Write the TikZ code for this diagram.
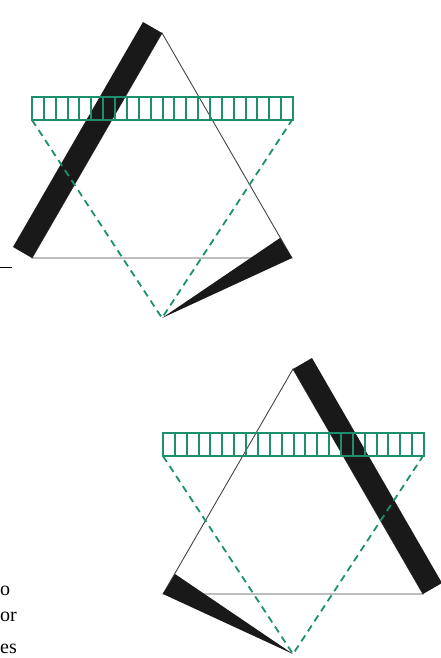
\documentclass[tikz,border=0pt]{standalone}
\usepackage{fontspec}
\setmainfont{Liberation Serif}
\usepackage{xcolor}
\usepackage{tikz}
\definecolor{hatchgreen}{HTML}{1B8F6E}
\definecolor{edgegray}{HTML}{444444}

\begin{document}
\begin{tikzpicture}[x=1pt,y=-1pt]
\useasboundingbox (0,0) rectangle (440,658);
% upper star
\coordinate (a1) at (162,33); \coordinate (b1) at (32,258); \coordinate (c1) at (292,258);
\coordinate (a1o) at (143,22); \coordinate (b1o) at (13,247);
\coordinate (q1) at (280,238); \coordinate (p1) at (162,318);
\coordinate (h1l) at (32,120); \coordinate (h1r) at (292,120);
\draw[edgegray,line width=0.9pt] (a1)--(b1)--(c1)--cycle;
\fill[black!90] (a1)--(a1o)--(b1o)--(b1)--cycle;
\fill[black!90] (p1)--(q1)--(c1)--cycle;
\draw[hatchgreen,line width=1.8pt,dash pattern=on 7pt off 5pt] (h1l)--(p1)--(h1r);
\draw[hatchgreen,line width=1.8pt] (32,97) rectangle (293,120);
\foreach \i in {1,...,21}{\draw[hatchgreen,line width=2pt] ({32+\i*261/22},97)--({32+\i*261/22},120);}
\coordinate (m1) at (0,267); \coordinate (m2) at (12,267);
\draw[line width=0.9pt] (m1)--(m2);
% lower star
\coordinate (a2) at (293,369); \coordinate (b2) at (163,594); \coordinate (c2) at (423,594);
\coordinate (a2o) at (312,358); \coordinate (c2o) at (442,583);
\coordinate (q2) at (175,574); \coordinate (p2) at (293,654);
\coordinate (h2l) at (163,456); \coordinate (h2r) at (423,456);
\draw[edgegray,line width=0.9pt] (a2)--(b2)--(c2)--cycle;
\fill[black!90] (a2)--(a2o)--(c2o)--(c2)--cycle;
\fill[black!90] (p2)--(q2)--(b2)--cycle;
\draw[hatchgreen,line width=1.8pt,dash pattern=on 7pt off 5pt] (h2l)--(p2)--(h2r);
\draw[hatchgreen,line width=1.8pt] (163,433) rectangle (424,456);
\foreach \i in {1,...,21}{\draw[hatchgreen,line width=2pt] ({163+\i*261/22},433)--({163+\i*261/22},456);}
% text at the margin
\node[anchor=base west,inner sep=0pt,font=\fontsize{20}{24}\selectfont] (t1) at (0,595) {o};
\node[anchor=base west,inner sep=0pt,font=\fontsize{20}{24}\selectfont] (t2) at (0,621) {or};
\node[anchor=base west,inner sep=0pt,font=\fontsize{20}{24}\selectfont] (t3) at (0,653) {es};
\end{tikzpicture}
\end{document}
